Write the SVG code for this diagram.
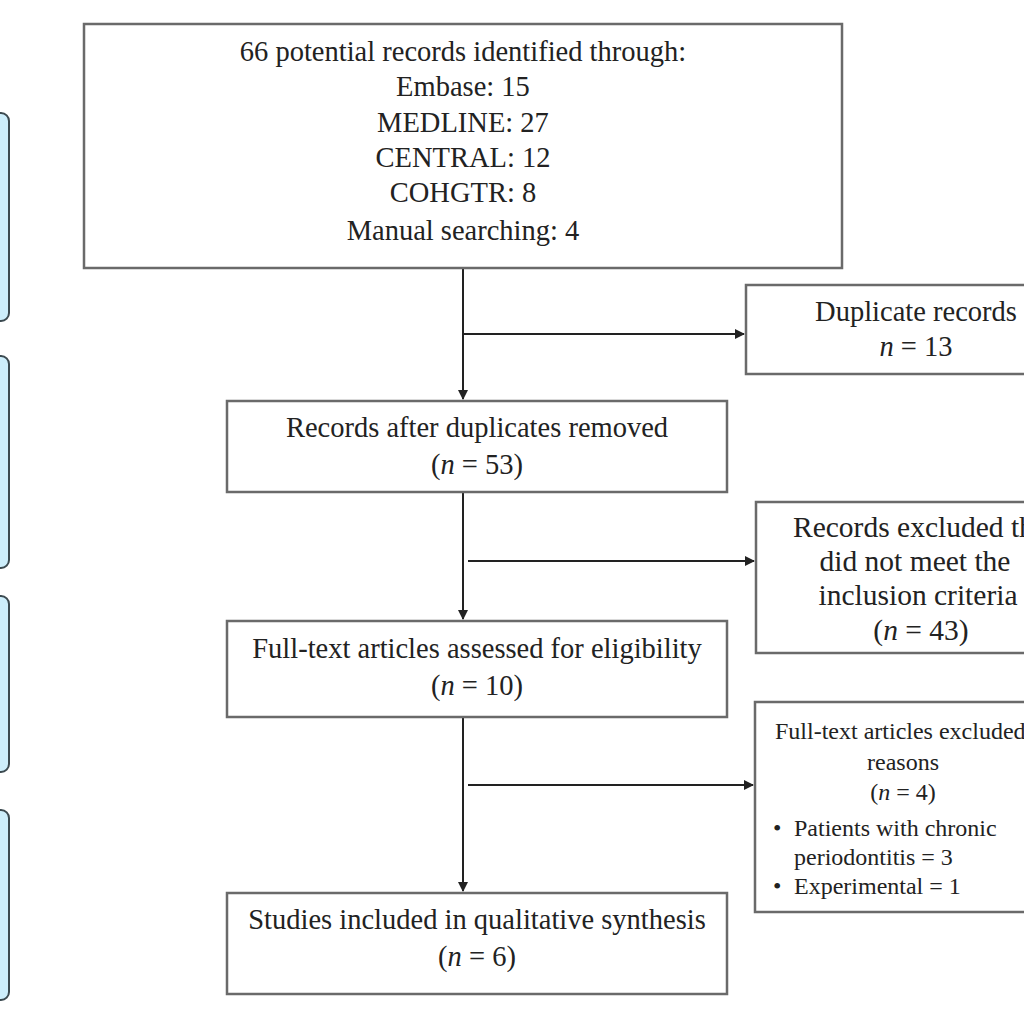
<svg xmlns="http://www.w3.org/2000/svg" width="1024" height="1024" viewBox="0 0 1024 1024">
<defs>
<style>
.box{fill:#fff;stroke:#6a6a6a;stroke-width:2.5}
.side{fill:#cdeefb;stroke:#3c4a50;stroke-width:2}
.t{font-family:"Liberation Serif","Times New Roman",serif;font-size:28.5px;fill:#222;text-anchor:middle}
.tl{font-family:"Liberation Serif","Times New Roman",serif;font-size:29.5px;fill:#222;text-anchor:start}
.tr{font-family:"Liberation Serif","Times New Roman",serif;font-size:29.5px;fill:#222;text-anchor:middle}
.s{font-family:"Liberation Serif","Times New Roman",serif;font-size:24px;fill:#222}
.sm{font-family:"Liberation Serif","Times New Roman",serif;font-size:24px;fill:#222;text-anchor:middle}
.ln{stroke:#222;stroke-width:2;fill:none}
</style>
<marker id="ah" markerWidth="10" markerHeight="10" refX="9" refY="5" orient="auto" markerUnits="userSpaceOnUse">
<path d="M0,0 L10,5 L0,10 z" fill="#222"/>
</marker>
</defs>
<rect width="1024" height="1024" fill="#fff"/>
<g id="side-bars">
<rect class="side" x="-20" y="113" width="29" height="208" rx="8"/>
<rect class="side" x="-20" y="356" width="29" height="212" rx="8"/>
<rect class="side" x="-20" y="596" width="29" height="176" rx="8"/>
<rect class="side" x="-20" y="810" width="29" height="190" rx="8"/>
</g>
<g id="connectors">
<line class="ln" x1="463" y1="268" x2="463" y2="399" marker-end="url(#ah)"/>
<line class="ln" x1="463" y1="334" x2="744" y2="334" marker-end="url(#ah)"/>
<line class="ln" x1="463" y1="492" x2="463" y2="619" marker-end="url(#ah)"/>
<line class="ln" x1="468" y1="561" x2="754" y2="561" marker-end="url(#ah)"/>
<line class="ln" x1="463" y1="717" x2="463" y2="891" marker-end="url(#ah)"/>
<line class="ln" x1="468" y1="785" x2="753" y2="785" marker-end="url(#ah)"/>
</g>
<g id="identified">
<rect class="box" x="84" y="24" width="758" height="244"/>
<text class="t" x="463" y="61">66 potential records identified through:</text>
<text class="t" x="463" y="96">Embase: 15</text>
<text class="t" x="463" y="132">MEDLINE: 27</text>
<text class="t" x="463" y="167">CENTRAL: 12</text>
<text class="t" x="463" y="202">COHGTR: 8</text>
<text class="t" x="463" y="240">Manual searching: 4</text>
</g>
<g id="duplicates">
<rect class="box" x="746" y="285" width="300" height="89"/>
<text class="t" x="916" y="321">Duplicate records</text>
<text class="t" x="916" y="356"><tspan font-style="italic">n</tspan> = 13</text>
</g>
<g id="after-dup">
<rect class="box" x="227" y="401" width="500" height="91"/>
<text class="t" x="477" y="437">Records after duplicates removed</text>
<text class="t" x="477" y="474">(<tspan font-style="italic">n</tspan> = 53)</text>
</g>
<g id="excluded">
<rect class="box" x="756" y="502" width="300" height="151"/>
<text class="tl" x="793" y="537">Records excluded th</text>
<text class="tr" x="915" y="571">did not meet the</text>
<text class="tr" x="918" y="605">inclusion criteria</text>
<text class="tr" x="921" y="640">(<tspan font-style="italic">n</tspan> = 43)</text>
</g>
<g id="fulltext">
<rect class="box" x="227" y="621" width="500" height="96"/>
<text class="t" x="477" y="658">Full-text articles assessed for eligibility</text>
<text class="t" x="477" y="695">(<tspan font-style="italic">n</tspan> = 10)</text>
</g>
<g id="ft-excluded">
<rect class="box" x="755" y="702" width="300" height="210"/>
<text class="s" x="775" y="739">Full-text articles excluded</text>
<text class="sm" x="903" y="770">reasons</text>
<text class="sm" x="903" y="800">(<tspan font-style="italic">n</tspan> = 4)</text>
<text class="s" x="773" y="836">•</text>
<text class="s" x="794" y="836">Patients with chronic</text>
<text class="s" x="794" y="865">periodontitis = 3</text>
<text class="s" x="773" y="894">•</text>
<text class="s" x="794" y="894">Experimental = 1</text>
</g>
<g id="included">
<rect class="box" x="227" y="893" width="500" height="101"/>
<text class="t" x="477" y="929">Studies included in qualitative synthesis</text>
<text class="t" x="477" y="966">(<tspan font-style="italic">n</tspan> = 6)</text>
</g>
</svg>
